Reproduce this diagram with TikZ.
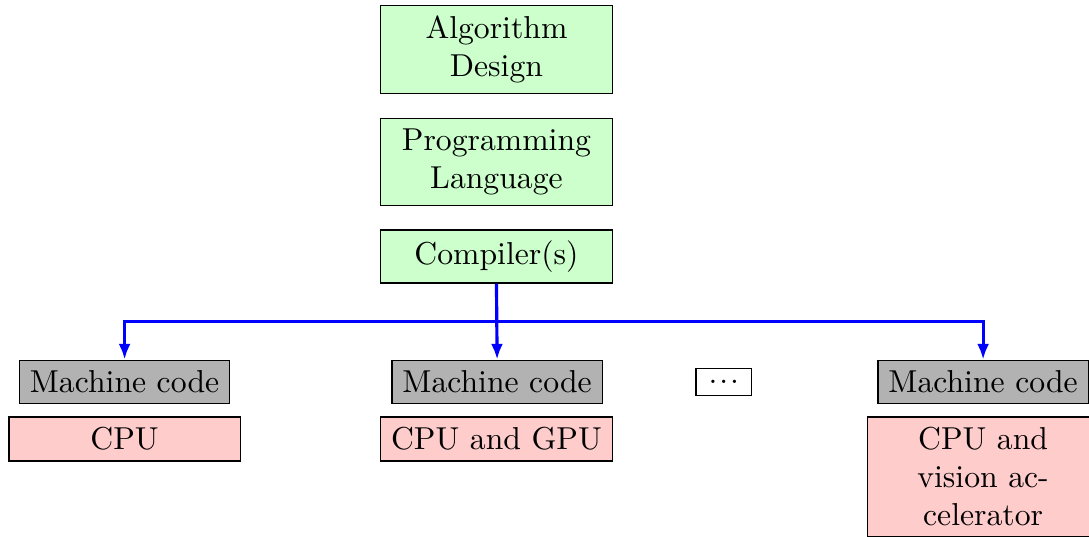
\documentclass[tikz,border=0pt]{standalone}
\usetikzlibrary{arrows.meta}
\begin{document}
\begin{tikzpicture}[x=1pt,y=1pt,
  box/.style={draw=black, line width=0.4pt},
  stage/.style={box, fill=green!20, text width=67pt, inner xsep=3pt, align=center},
  code/.style={box, fill=black!30},
  target/.style={box, fill=red!20, text width=67pt, inner xsep=3pt, align=center, anchor=north},
  gap/.style={box, inner xsep=4pt, inner ysep=3.8pt},
  flow/.style={blue, line width=1pt, -{Latex[length=5pt,width=3.8pt]}}]
\useasboundingbox (0,0) rectangle (343.5,-169.1);

% software stack
\node[stage] (alg)  at (156.6,-15.6) {Algorithm\\Design};
\node[stage] (lang) at (156.6,-51.1) {Programming\\Language};
\node[stage] (comp) at (156.6,-80.9) {Compiler(s)};

% per-platform machine code
\node[code] (mc1) at (39.3,-120.5)  {Machine code};
\node[code] (mc2) at (156.8,-120.5) {Machine code};
\node[gap]  (more) at (228.3,-120.5) {.\kern0.6pt.\kern0.6pt.};
\node[code] (mc3) at (310.1,-120.5) {Machine code};

% hardware targets
\node[target] (hw1) at (39.3,-131.3)  {CPU};
\node[target] (hw2) at (156.6,-131.3) {CPU and GPU};
\node[target] (hw3) at (310.1,-131.3) {CPU and\\vision ac-\\celerator};

% compiler fan-out
\coordinate (split) at (comp.south |- 0,-101.3);
\draw[flow] (comp.south) -- (mc2.north);
\draw[flow] (comp.south) -- (split) -| (mc1.north);
\draw[flow] (split) -| (mc3.north);
\end{tikzpicture}
\end{document}
